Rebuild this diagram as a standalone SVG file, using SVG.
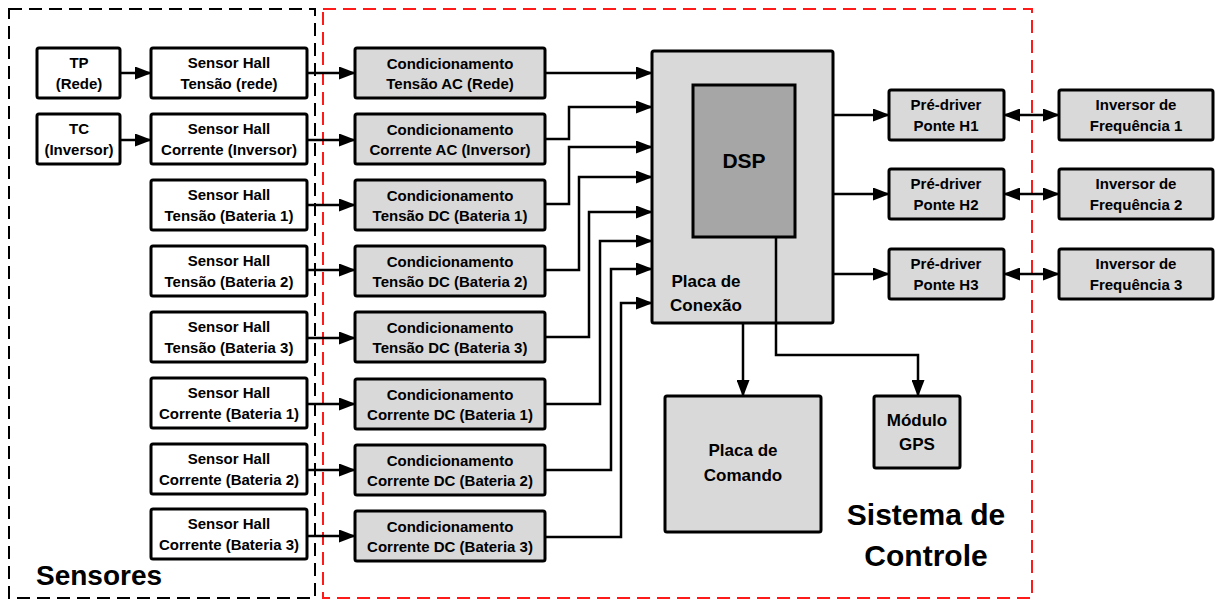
<svg xmlns="http://www.w3.org/2000/svg" width="1216" height="601" viewBox="0 0 1216 601">
<style>
text{font-family:"Liberation Sans",Arial,sans-serif;font-weight:bold;fill:#000;text-anchor:middle}
.t{font-size:15px}
.m{font-size:17px}
.w{fill:#fff;stroke:#000;stroke-width:3}
.g{fill:#d9d9d9;stroke:#000;stroke-width:3}
.c{fill:none;stroke:#000;stroke-width:2.5;marker-end:url(#ah)}
.b{fill:none;stroke:#000;stroke-width:2.5;marker-start:url(#ah);marker-end:url(#ah)}
</style>
<defs>
<marker id="ah" markerUnits="userSpaceOnUse" markerWidth="17" markerHeight="13" refX="16" refY="6.5" orient="auto-start-reverse">
<path d="M0,0 L17,6.5 L0,13 z" fill="#000"/>
</marker>
</defs>
<rect width="1216" height="601" fill="#fff"/>
<g id="regions">
<rect x="9" y="9" width="306" height="589" fill="none" stroke="#000" stroke-width="2" stroke-dasharray="13,7"/>
<rect x="323" y="9" width="709" height="589" fill="none" stroke="#ff1a1a" stroke-width="2" stroke-dasharray="13,7"/>
<text x="36" y="585" style="font-size:28px;text-anchor:start">Sensores</text>
<text x="926" y="525" style="font-size:30px">Sistema de</text>
<text x="926" y="566" style="font-size:30px">Controle</text>
</g>
<g id="tp"><rect class="w" x="37" y="48" width="83" height="50" rx="2"/><text class="t" x="79" y="68">TP</text><text class="t" x="79" y="89">(Rede)</text></g>
<g id="tc"><rect class="w" x="37" y="114" width="83" height="50" rx="2"/><text class="t" x="79" y="134">TC</text><text class="t" x="79" y="155">(Inversor)</text></g>
<g id="sh1"><rect class="w" x="151" y="48" width="156" height="50" rx="2"/><text class="t" x="229" y="68">Sensor Hall</text><text class="t" x="229" y="89">Tensão (rede)</text></g>
<g id="sh2"><rect class="w" x="151" y="114" width="156" height="50" rx="2"/><text class="t" x="229" y="134">Sensor Hall</text><text class="t" x="229" y="155">Corrente (Inversor)</text></g>
<g id="sh3"><rect class="w" x="151" y="180" width="156" height="50" rx="2"/><text class="t" x="229" y="200">Sensor Hall</text><text class="t" x="229" y="221">Tensão (Bateria 1)</text></g>
<g id="sh4"><rect class="w" x="151" y="246" width="156" height="50" rx="2"/><text class="t" x="229" y="266">Sensor Hall</text><text class="t" x="229" y="287">Tensão (Bateria 2)</text></g>
<g id="sh5"><rect class="w" x="151" y="312" width="156" height="50" rx="2"/><text class="t" x="229" y="332">Sensor Hall</text><text class="t" x="229" y="353">Tensão (Bateria 3)</text></g>
<g id="sh6"><rect class="w" x="151" y="378" width="156" height="50" rx="2"/><text class="t" x="229" y="398">Sensor Hall</text><text class="t" x="229" y="419">Corrente (Bateria 1)</text></g>
<g id="sh7"><rect class="w" x="151" y="444" width="156" height="50" rx="2"/><text class="t" x="229" y="464">Sensor Hall</text><text class="t" x="229" y="485">Corrente (Bateria 2)</text></g>
<g id="sh8"><rect class="w" x="151" y="509" width="156" height="50" rx="2"/><text class="t" x="229" y="529">Sensor Hall</text><text class="t" x="229" y="550">Corrente (Bateria 3)</text></g>
<g id="c1"><rect class="g" x="355" y="48" width="190" height="50" rx="2"/><text class="t" x="450" y="69">Condicionamento</text><text class="t" x="450" y="89">Tensão AC (Rede)</text></g>
<g id="c2"><rect class="g" x="355" y="114" width="190" height="50" rx="2"/><text class="t" x="450" y="135">Condicionamento</text><text class="t" x="450" y="155">Corrente AC (Inversor)</text></g>
<g id="c3"><rect class="g" x="355" y="180" width="190" height="50" rx="2"/><text class="t" x="450" y="201">Condicionamento</text><text class="t" x="450" y="221">Tensão DC (Bateria 1)</text></g>
<g id="c4"><rect class="g" x="355" y="246" width="190" height="50" rx="2"/><text class="t" x="450" y="267">Condicionamento</text><text class="t" x="450" y="287">Tensão DC (Bateria 2)</text></g>
<g id="c5"><rect class="g" x="355" y="312" width="190" height="50" rx="2"/><text class="t" x="450" y="333">Condicionamento</text><text class="t" x="450" y="353">Tensão DC (Bateria 3)</text></g>
<g id="c6"><rect class="g" x="355" y="379" width="190" height="50" rx="2"/><text class="t" x="450" y="400">Condicionamento</text><text class="t" x="450" y="420">Corrente DC (Bateria 1)</text></g>
<g id="c7"><rect class="g" x="355" y="445" width="190" height="50" rx="2"/><text class="t" x="450" y="466">Condicionamento</text><text class="t" x="450" y="486">Corrente DC (Bateria 2)</text></g>
<g id="c8"><rect class="g" x="355" y="511" width="190" height="50" rx="2"/><text class="t" x="450" y="532">Condicionamento</text><text class="t" x="450" y="552">Corrente DC (Bateria 3)</text></g>
<g id="placa-conexao"><rect class="g" x="652" y="51" width="181" height="272" rx="2"/><text class="m" x="706" y="287">Placa de</text><text class="m" x="706" y="311">Conexão</text></g>
<g id="dsp"><rect x="693" y="85" width="102" height="152" fill="#a6a6a6" stroke="#000" stroke-width="3"/><text x="744" y="168" style="font-size:21px">DSP</text></g>
<g id="pd1"><rect class="g" x="889" y="90" width="115" height="50" rx="2"/><text class="t" x="946" y="110">Pré-driver</text><text class="t" x="946" y="131">Ponte H1</text></g>
<g id="pd2"><rect class="g" x="889" y="169" width="115" height="50" rx="2"/><text class="t" x="946" y="189">Pré-driver</text><text class="t" x="946" y="210">Ponte H2</text></g>
<g id="pd3"><rect class="g" x="889" y="249" width="115" height="50" rx="2"/><text class="t" x="946" y="269">Pré-driver</text><text class="t" x="946" y="290">Ponte H3</text></g>
<g id="inv1"><rect class="g" x="1059" y="90" width="154" height="50" rx="2"/><text class="t" x="1136" y="110">Inversor de</text><text class="t" x="1136" y="131">Frequência 1</text></g>
<g id="inv2"><rect class="g" x="1059" y="169" width="154" height="50" rx="2"/><text class="t" x="1136" y="189">Inversor de</text><text class="t" x="1136" y="210">Frequência 2</text></g>
<g id="inv3"><rect class="g" x="1059" y="249" width="154" height="50" rx="2"/><text class="t" x="1136" y="269">Inversor de</text><text class="t" x="1136" y="290">Frequência 3</text></g>
<g id="placa-comando"><rect class="g" x="665" y="396" width="156" height="136" rx="2"/><text class="m" x="743" y="456">Placa de</text><text class="m" x="743" y="481">Comando</text></g>
<g id="gps"><rect class="g" x="874" y="396" width="86" height="72" rx="2"/><text class="m" x="917" y="426">Módulo</text><text class="m" x="917" y="450">GPS</text></g>
<g id="connectors">
<path class="c" d="M120,73 H151"/>
<path class="c" d="M120,140 H151"/>
<path class="c" d="M307,73 H355"/>
<path class="c" d="M307,140 H355"/>
<path class="c" d="M307,205 H355"/>
<path class="c" d="M307,270 H355"/>
<path class="c" d="M307,338 H355"/>
<path class="c" d="M307,404 H355"/>
<path class="c" d="M307,470 H355"/>
<path class="c" d="M307,536 H355"/>
<path class="c" d="M545,73 H652"/>
<path class="c" d="M545,139 H569 V107 H652"/>
<path class="c" d="M545,204 H569 V147 H652"/>
<path class="c" d="M545,270 H579 V177 H652"/>
<path class="c" d="M545,337 H589 V212 H652"/>
<path class="c" d="M545,404 H600 V241 H652"/>
<path class="c" d="M545,470 H611 V269 H652"/>
<path class="c" d="M545,537 H621 V303 H652"/>
<path class="c" d="M833,115 H889"/>
<path class="c" d="M833,194 H889"/>
<path class="c" d="M833,274 H889"/>
<path class="b" d="M1004,115 H1059"/>
<path class="b" d="M1004,194 H1059"/>
<path class="b" d="M1004,274 H1059"/>
<path class="c" d="M743,323 V396"/>
<path class="c" d="M776,237 V355 H918 V396"/>
</g>
</svg>
